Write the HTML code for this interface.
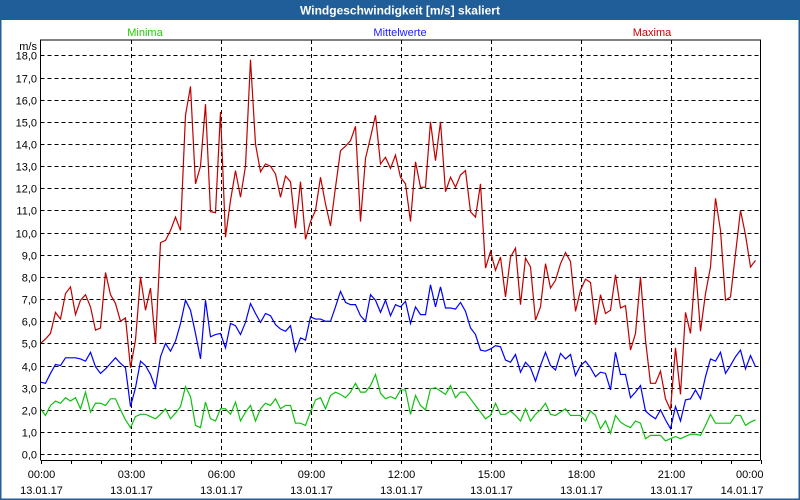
<!DOCTYPE html>
<html><head><meta charset="utf-8"><style>
html,body{margin:0;padding:0;background:#fff;}
#wrap{position:relative;width:800px;height:500px;overflow:hidden;font-family:"Liberation Sans",sans-serif;}
</style></head><body>
<div id="wrap">
<svg id="chart" width="800" height="500" xmlns="http://www.w3.org/2000/svg">
<rect x="0" y="0" width="800" height="500" fill="#fff"/>
<rect x="0" y="0" width="800" height="20" fill="#1f5e98"/>
<rect x="0.75" y="0.75" width="798.5" height="498.5" fill="none" stroke="#1f5e98" stroke-width="1.5"/>
<text x="400" y="14.5" text-anchor="middle" fill="#fff" font-size="12" font-weight="bold">Windgeschwindigkeit [m/s] skaliert</text>
<text x="145" y="36" text-anchor="middle" fill="#22cc00" font-size="11">Minima</text>
<text x="400" y="36" text-anchor="middle" fill="#2020ff" font-size="11">Mittelwerte</text>
<text x="652" y="36" text-anchor="middle" fill="#cc0000" font-size="11">Maxima</text>
<text x="37" y="50" text-anchor="end" fill="#000" font-size="11">m/s</text>
<g id="grid"></g><g id="series"></g><g id="axes"></g>
</svg>
</div>
<script>
const yTicks=[0,1,2,3,4,5,6,7,8,9,10,11,12,13,14,15,16,17,18];
const yTickLabels=["0,0","1,0","2,0","3,0","4,0","5,0","6,0","7,0","8,0","9,0","10,0","11,0","12,0","13,0","14,0","15,0","16,0","17,0","18,0"];
const xTickHours=[0,3,6,9,12,15,18,21,24];
const xTickTimes=["00:00","03:00","06:00","09:00","12:00","15:00","18:00","21:00","00:00"];
const xTickDates=["13.01.17","13.01.17","13.01.17","13.01.17","13.01.17","13.01.17","13.01.17","13.01.17","14.01.17"];
const maxima=[5.0,5.2,5.45,6.4,6.1,7.25,7.55,6.3,6.95,7.2,6.65,5.6,5.7,8.2,7.2,6.8,6.0,6.15,3.9,5.15,8.0,6.5,7.5,5.0,9.55,9.65,10.1,10.7,10.1,15.3,16.6,12.2,13.0,15.8,10.95,10.9,15.45,9.8,11.45,12.8,11.6,13.0,17.8,14.0,12.75,13.1,13.0,12.65,11.6,12.55,12.3,10.2,12.3,9.7,10.5,11.0,12.5,11.3,10.3,12.05,13.7,13.9,14.15,14.8,10.5,13.35,14.3,15.3,13.1,13.4,12.9,13.5,12.5,12.2,10.5,13.2,12.05,12.05,15.0,13.25,15.0,11.85,12.5,12.05,12.6,12.8,10.95,10.7,12.2,8.4,9.15,8.3,8.9,7.1,8.9,9.3,6.75,8.85,8.45,6.05,6.65,8.6,7.5,7.85,8.6,9.1,8.7,6.45,7.4,7.9,7.75,5.85,7.2,6.35,6.5,8.1,6.6,6.7,4.7,5.45,8.0,5.15,3.2,3.2,3.75,2.5,2.0,4.8,2.7,6.4,5.45,8.45,5.55,7.25,8.45,11.55,10.1,6.95,7.1,9.05,11.0,9.9,8.45,8.75];
const mittel=[3.25,3.2,3.65,4.05,4.0,4.35,4.35,4.35,4.3,4.2,4.6,3.95,3.65,3.85,4.1,4.35,4.1,3.9,2.15,3.0,4.2,4.0,3.6,3.0,4.4,5.0,4.65,5.1,5.9,6.95,6.5,5.45,4.3,6.95,5.3,5.4,5.45,4.8,5.9,5.8,5.4,5.95,6.8,6.35,5.95,6.35,6.25,5.85,5.65,5.55,5.8,4.65,5.25,5.15,6.2,6.1,6.1,6.0,6.0,6.65,7.35,6.85,6.75,6.75,6.25,6.0,7.2,6.95,6.4,6.95,6.25,6.75,6.65,6.9,5.9,6.65,6.3,6.3,7.65,6.65,7.55,6.6,6.6,6.55,6.85,6.45,5.7,5.4,4.7,4.65,4.75,4.9,4.85,4.25,4.15,4.5,3.7,4.15,3.9,3.3,4.0,4.6,4.0,3.8,4.55,4.3,4.5,3.55,4.0,4.2,3.9,3.5,3.7,3.65,2.9,4.6,3.6,3.6,2.55,2.8,3.1,1.95,1.75,1.6,2.0,1.55,1.15,2.15,1.5,2.45,2.5,2.9,2.5,3.5,4.3,4.2,4.6,3.65,4.0,4.4,4.7,3.85,4.45,3.95];
const minima=[2.05,1.75,2.2,2.4,2.3,2.55,2.4,2.55,2.05,2.8,1.9,2.3,2.3,2.2,2.5,2.5,2.0,1.55,1.2,1.7,1.8,1.8,1.7,1.6,1.8,2.05,1.6,1.85,2.15,3.05,2.6,1.3,1.2,2.35,1.6,1.5,2.05,2.05,1.8,2.35,1.5,1.9,2.2,1.5,2.05,2.3,2.2,2.5,2.05,2.2,2.2,1.4,1.4,1.3,1.9,2.45,2.55,2.05,2.65,2.8,2.7,2.55,2.8,3.2,2.8,2.8,3.1,3.6,2.75,2.5,2.6,2.5,2.9,2.9,1.8,2.65,2.2,2.0,2.95,3.0,2.85,2.7,3.1,2.55,2.8,2.8,2.5,2.2,1.9,1.6,1.75,2.3,1.8,1.8,1.95,1.75,1.5,2.05,1.5,1.8,2.0,2.3,1.8,1.75,1.9,2.05,1.75,1.75,1.75,1.5,1.95,1.75,1.15,1.5,0.95,1.75,1.45,1.3,1.2,1.5,1.4,0.7,0.85,0.85,0.85,0.6,0.7,0.8,0.7,0.8,0.9,0.9,0.85,1.3,1.8,1.4,1.4,1.4,1.4,1.75,1.75,1.3,1.45,1.55];
const stepMinutes=10;

const NS="http://www.w3.org/2000/svg";
const X0=40.5,X1=760.5,Y0=454.2,YTOP=55.4,AX_TOP=40,AX_BOT=460;
function xScale(h){return X0+(X1-X0)*h/24;}
function yScale(v){return Y0-(Y0-YTOP)*v/18;}
function mk(tag,attrs,parent){const e=document.createElementNS(NS,tag);for(const k in attrs)e.setAttribute(k,attrs[k]);parent.appendChild(e);return e;}
const grid=document.getElementById('grid'),axes=document.getElementById('axes'),ser=document.getElementById('series');

yTicks.forEach((v,i)=>{
  const y=Math.round(yScale(v))+0.5;
  const l=mk('line',{x1:X0,x2:X1,y1:y,y2:y,stroke:'#000','stroke-width':1,'stroke-dasharray':'4,3'},grid);
  
  
  const t=mk('text',{x:37,y:y+4,'text-anchor':'end','font-size':11,fill:'#000'},axes);
  t.textContent=yTickLabels[i];
  
  
});
xTickHours.forEach((h,i)=>{
  const x=Math.round(xScale(h))+0.5;
  if(h>0&&h<24){
    const l=mk('line',{x1:x,x2:x,y1:AX_TOP,y2:AX_BOT,stroke:'#000','stroke-width':1,'stroke-dasharray':'4,3'},grid);
    
    
  }
  const anchor=h===24?'end':'middle';
  const tx=h===24?x+2:x;
  const t1=mk('text',{x:tx,y:478,'text-anchor':anchor,'font-size':11,fill:'#000'},axes);
  t1.textContent=xTickTimes[i];
  
  
  const t2=mk('text',{x:tx,y:494,'text-anchor':anchor,'font-size':11,fill:'#000'},axes);
  t2.textContent=xTickDates[i];
  
  
});
for(let h=0;h<=24;h++){
  const x=Math.round(xScale(h))+0.5;
  const tk=mk('line',{x1:x,x2:x,y1:AX_BOT,y2:AX_BOT+4,stroke:'#000'},axes);
  
  
}
const frame=mk('path',{d:`M${X0},${AX_BOT}V${AX_TOP}H${X1}V${AX_BOT}M${X0},${AX_BOT+0.5}H${X1}`,fill:'none',stroke:'#000','stroke-width':1},axes);



function drawSeries(data,color,name){
  const pts=data.map((v,i)=>xScale(i*stepMinutes/60).toFixed(2)+','+yScale(v).toFixed(2)).join(' ');
  const p=mk('polyline',{points:pts,fill:'none',stroke:color,'stroke-width':1.2,'stroke-linejoin':'miter'},ser);
  
  
}
drawSeries(minima,'#10c010','series-minima');
drawSeries(mittel,'#0000ff','series-mittelwerte');
drawSeries(maxima,'#c00000','series-maxima');
</script>
</body></html>
